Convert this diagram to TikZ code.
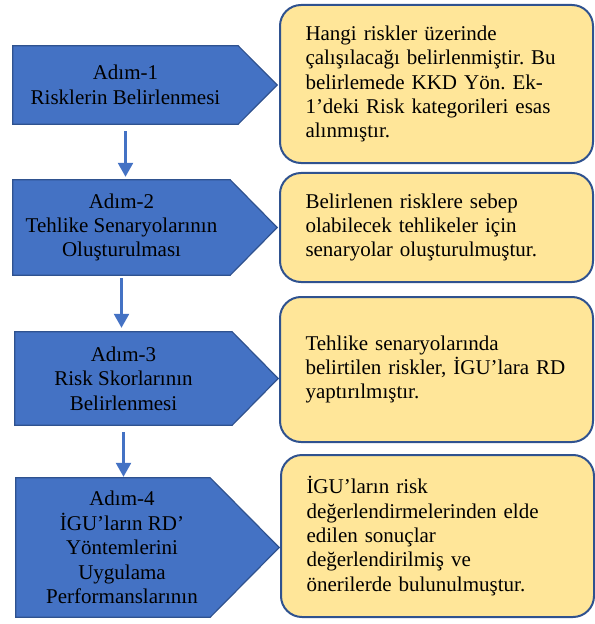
\documentclass[tikz,border=0pt]{standalone}
\usepackage{fontspec}
\setmainfont{Liberation Serif}
\usepackage{xcolor}
\usepackage{tikz}
\usetikzlibrary{arrows.meta,positioning,backgrounds}
\definecolor{mStepBlue}{HTML}{4472C4}
\definecolor{mEdgeBlue}{HTML}{2F528F}
\definecolor{mNoteYellow}{HTML}{FFE699}
\frenchspacing

\begin{document}
\begin{tikzpicture}[x=1bp, y=-1bp,
        stepbox/.style={align=center, inner sep=0pt,
                        font=\fontsize{21bp}{24.4bp}\selectfont},
        stepshape/.style={draw=mEdgeBlue, fill=mStepBlue, line width=1.2bp},
        note/.style={draw=mEdgeBlue, fill=mNoteYellow, line width=2bp,
                     rounded corners=21bp, align=left, text width=262bp,
                     inner xsep=25.5bp, inner ysep=0pt,
                     font=\fontsize{21bp}{24.4bp}\selectfont},
        arr/.style={-{Triangle[width=15bp,length=14bp]}, line width=2.5bp, mStepBlue},
    ]
        \useasboundingbox (0,0) rectangle (595,624);

        \node[stepbox, minimum width=225bp, minimum height=78bp] (s1) at (125.5,85)
            {Adım-1\\Risklerin Belirlenmesi};
        \node[stepbox, minimum width=217bp, minimum height=95bp] (s2) at (121.5,227.5)
            {Adım-2\\Tehlike Senaryolarının\\Oluşturulması};
        \node[stepbox, minimum width=217bp, minimum height=93bp] (s3) at (123.5,378.5)
            {Adım-3\\Risk Skorlarının\\Belirlenmesi};
        \node[stepbox, minimum width=212bp, minimum height=139bp] (s4) at (122,547.5)
            {Adım-4\\İGU’ların RD’\\Yöntemlerini\\Uygulama\\Performanslarının};

        \begin{scope}[on background layer]
            \foreach \s/\c/\t in {s1/0bp/39bp, s2/0bp/47bp, s3/0bp/46bp, s4/18bp/51bp}
                \draw[stepshape] (\s.south west) -- (\s.north west)
                    -- ([xshift=-\c]\s.north east) -- ([xshift=\t]\s.east)
                    -- ([xshift=-\c]\s.south east) -- cycle;
        \end{scope}

        \node[note, minimum height=158bp] (n1) at (436.5,84)
            {Hangi riskler üzerinde\\çalışılacağı belirlenmiştir. Bu\\belirlemede KKD Yön. Ek-\\1’deki Risk kategorileri esas\\alınmıştır.};
        \node[note, minimum height=109bp] (n2) at (436.5,227.5)
            {Belirlenen risklere sebep\\olabilecek tehlikeler için\\senaryolar oluşturulmuştur.};
        \node[note, minimum height=145bp] (n3) at (436.5,369.5)
            {Tehlike senaryolarında\\belirtilen riskler, İGU’lara RD\\yaptırılmıştır.};
        \node[note, minimum height=162bp] (n4) at (437.5,536)
            {İGU’ların risk\\değerlendirmelerinden elde\\edilen sonuçlar\\değerlendirilmiş ve\\önerilerde bulunulmuştur.};

        \draw[arr, shorten <=7bp, shorten >=3bp] (s1.south) -- (s1.south |- s2.north);
        \draw[arr, shorten <=3bp, shorten >=4bp] (s2.south) -- (s2.south |- s3.north);
        \draw[arr, shorten <=7bp, shorten >=1bp] (s3.south) -- (s3.south |- s4.north);
    \end{tikzpicture}
\end{document}
